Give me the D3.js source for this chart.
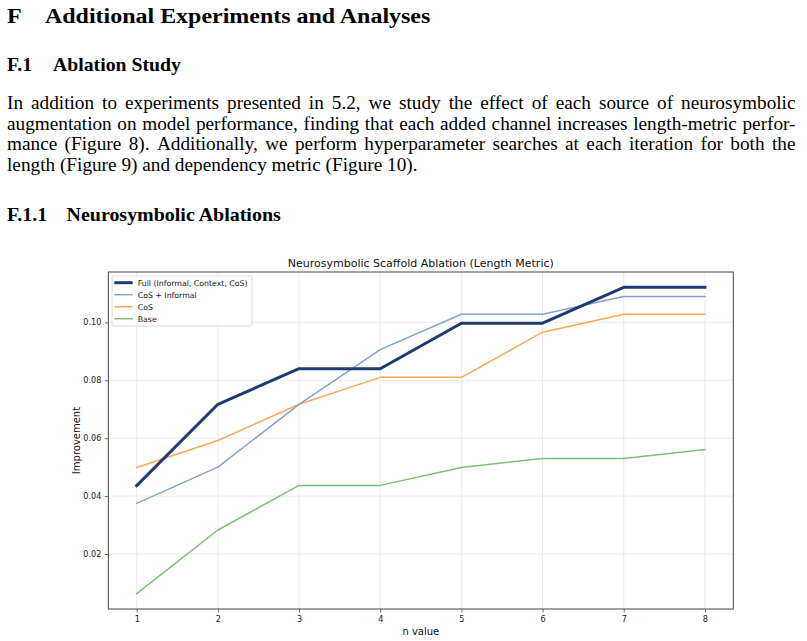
<!DOCTYPE html>
<html>
<head>
<meta charset="utf-8">
<script src="https://cdn.jsdelivr.net/npm/d3@7"></script>
<style>
  html, body { margin: 0; padding: 0; background: #fff; }
  svg { display: block; }
</style>
</head>
<body>
<svg id="page" width="807" height="641"></svg>
<script>
// ---------- data ----------
const nValues = [1, 2, 3, 4, 5, 6, 7, 8];
const seriesNames = ["Full (Informal, Context, CoS)", "CoS + Informal", "CoS", "Base"];
const fullValues = [0.0436, 0.0717, 0.0840, 0.0840, 0.0997, 0.0997, 0.1121, 0.1121];
const cosInformalValues = [0.0375, 0.0500, 0.0717, 0.0906, 0.1028, 0.1028, 0.1089, 0.1089];
const cosValues = [0.0499, 0.0592, 0.0717, 0.0810, 0.0810, 0.0966, 0.1028, 0.1028];
const baseValues = [0.0063, 0.0283, 0.0437, 0.0437, 0.0499, 0.0530, 0.0530, 0.0561];
const yTicks = [0.02, 0.04, 0.06, 0.08, 0.10];
const chartTitle = "Neurosymbolic Scaffold Ablation (Length Metric)";
const xLabel = "n value";
const yLabel = "Improvement";

const headingNum = "F", headingText = "Additional Experiments and Analyses";
const sub1Num = "F.1", sub1Text = "Ablation Study";
const sub2Num = "F.1.1", sub2Text = "Neurosymbolic Ablations";
const paragraphLines = [
  "In addition to experiments presented in 5.2, we study the effect of each source of neurosymbolic",
  "augmentation on model performance, finding that each added channel increases length-metric perfor-",
  "mance (Figure 8). Additionally, we perform hyperparameter searches at each iteration for both the",
  "length (Figure 9) and dependency metric (Figure 10)."
];

// ---------- styles ----------
const colors = ["#1f3a70", "#83a3cc", "#fda75a", "#7fbf7a"];
const widths = [3, 1.5, 1.5, 1.5];
const serif = "'Liberation Serif', 'Times New Roman', serif";
const sans = "'DejaVu Sans', sans-serif";
const headSx = 1.11;  // horizontal stretch of headings
const paraSx = 1.07;  // horizontal stretch of body text

const svg = d3.select("#page");

// ---------- text part ----------
function serifText(x0, y0, size, bold, txt, sx) {
  return svg.append("text")
    .attr("transform", `translate(${x0},${y0}) scale(${sx},1)`)
    .attr("font-family", serif).attr("font-weight", bold ? "bold" : "normal")
    .attr("font-size", size).attr("fill", "#000").text(txt);
}
serifText(7, 23, 21.6, true, headingNum, headSx);
serifText(45, 23, 21.6, true, headingText, headSx);
serifText(7, 71, 17.8, true, sub1Num, headSx);
serifText(53, 71, 17.8, true, sub1Text, headSx);
serifText(7, 221, 18, true, sub2Num, headSx);
serifText(66.5, 221, 18, true, sub2Text, headSx);

const paraLeft = 7, paraRight = 795.5, paraSize = 18;
const baselines = [109, 129.6, 150.2, 170.8];
paragraphLines.forEach((line, i) => {
  const words = line.split(" ");
  const t = svg.append("text")
    .attr("transform", `translate(${paraLeft},${baselines[i]}) scale(${paraSx},1)`)
    .attr("font-family", serif).attr("font-size", paraSize).attr("fill", "#000");
  const spans = words.map(w => t.append("tspan").text(w));
  const wlens = spans.map(s => s.node().getComputedTextLength());
  const total = d3.sum(wlens);
  const last = i === paragraphLines.length - 1;
  const normalSpace = paraSize * 0.25;
  const localWidth = (paraRight - paraLeft) / paraSx;
  const gap = last ? normalSpace : (localWidth - total) / (words.length - 1);
  let x = 0;
  spans.forEach((s, k) => { s.attr("x", x); x += wlens[k] + gap; });
});

// ---------- chart ----------
const plot = { left: 108.3, right: 733.3, top: 272, bottom: 609 };
const allSeries = [fullValues, cosInformalValues, cosValues, baseValues];
const yMin = d3.min(allSeries.flat()), yMax = d3.max(allSeries.flat());
const yPad = (yMax - yMin) * 0.05;
const xPad = (d3.max(nValues) - d3.min(nValues)) * 0.05;

const x = d3.scaleLinear()
  .domain([d3.min(nValues) - xPad, d3.max(nValues) + xPad])
  .range([plot.left, plot.right]);
const y = d3.scaleLinear()
  .domain([yMin - yPad, yMax + yPad])
  .range([plot.bottom, plot.top]);

const g = svg.append("g");

// grid
g.append("g").selectAll("line").data(nValues).join("line")
  .attr("x1", d => x(d)).attr("x2", d => x(d))
  .attr("y1", plot.top).attr("y2", plot.bottom)
  .attr("stroke", "#e6e6e6").attr("stroke-width", 0.8);
g.append("g").selectAll("line").data(yTicks).join("line")
  .attr("x1", plot.left).attr("x2", plot.right)
  .attr("y1", d => y(d)).attr("y2", d => y(d))
  .attr("stroke", "#e6e6e6").attr("stroke-width", 0.8);

// lines (draw Base first so Full is on top)
const lineGen = d3.line().x((d, i) => x(nValues[i])).y(d => y(d));
[3, 2, 1, 0].forEach(k => {
  g.append("path").datum(allSeries[k])
    .attr("d", lineGen)
    .attr("fill", "none")
    .attr("stroke", colors[k])
    .attr("stroke-width", widths[k])
    .attr("stroke-linejoin", "round")
    .attr("stroke-linecap", "square");
});

// axes
const xAxis = d3.axisBottom(x).tickValues(nValues).tickFormat(d3.format("d"))
  .tickSizeInner(3.5).tickSizeOuter(0).tickPadding(3.5);
const yAxis = d3.axisLeft(y).tickValues(yTicks).tickFormat(d3.format(".2f"))
  .tickSizeInner(3.5).tickSizeOuter(0).tickPadding(3.5);

const axColor = "#444";
const gx = g.append("g").attr("transform", `translate(0,${plot.bottom})`).call(xAxis);
const gy = g.append("g").attr("transform", `translate(${plot.left},0)`).call(yAxis);
[gx, gy].forEach(a => {
  a.select(".domain").remove();
  a.selectAll(".tick line").attr("stroke", axColor).attr("stroke-width", 0.8);
  a.selectAll(".tick text").attr("font-family", sans).attr("font-size", 8.1).attr("fill", "#222");
});

// frame
g.append("rect")
  .attr("x", plot.left).attr("y", plot.top)
  .attr("width", plot.right - plot.left).attr("height", plot.bottom - plot.top)
  .attr("fill", "none").attr("stroke", axColor).attr("stroke-width", 1);

// title and labels
svg.append("text").attr("x", (plot.left + plot.right) / 2).attr("y", 266.5)
  .attr("text-anchor", "middle").attr("font-family", sans).attr("font-size", 11)
  .attr("fill", "#111").text(chartTitle);
svg.append("text").attr("x", (plot.left + plot.right) / 2).attr("y", 634.5)
  .attr("text-anchor", "middle").attr("font-family", sans).attr("font-size", 10)
  .attr("fill", "#111").text(xLabel);
svg.append("text")
  .attr("transform", `translate(79.5,${(plot.top + plot.bottom) / 2}) rotate(-90)`)
  .attr("text-anchor", "middle").attr("font-family", sans).attr("font-size", 10)
  .attr("fill", "#111").text(yLabel);

// legend
const lg = svg.append("g").attr("transform", "translate(112,276)");
lg.append("rect").attr("x", 0).attr("y", 0).attr("width", 140).attr("height", 50)
  .attr("rx", 2).attr("fill", "#fff").attr("fill-opacity", 0.85)
  .attr("stroke", "#d6d6d6").attr("stroke-width", 0.8);
seriesNames.forEach((name, i) => {
  const yy = 6.7 + i * 12;
  lg.append("line").attr("x1", 2.3).attr("x2", 20.7).attr("y1", yy).attr("y2", yy)
    .attr("stroke", colors[i]).attr("stroke-width", widths[i]);
  lg.append("text").attr("x", 25.7).attr("y", yy + 2.9)
    .attr("font-family", sans).attr("font-size", 7.8).attr("fill", "#111").text(name);
});
</script>
</body>
</html>
